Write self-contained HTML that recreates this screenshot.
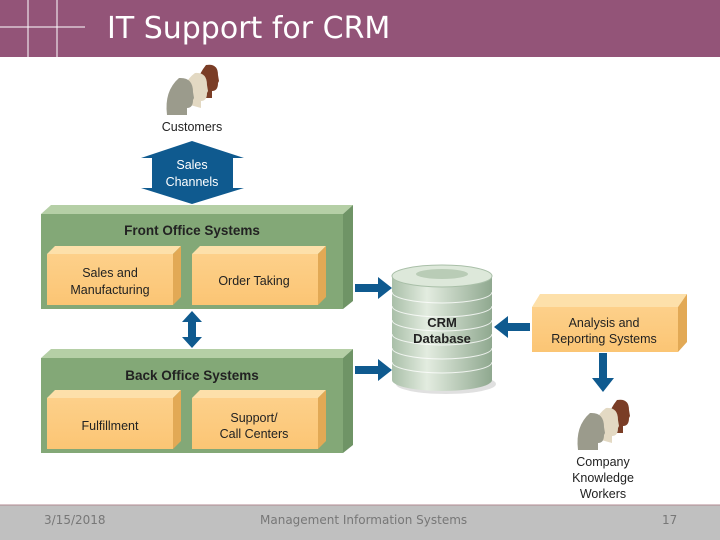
<!DOCTYPE html>
<html><head><meta charset="utf-8"><style>
html,body{margin:0;padding:0;background:#fff;}
svg{display:block;font-family:"Liberation Sans",sans-serif;}
</style></head><body>
<svg width="720" height="540" viewBox="0 0 720 540" xmlns="http://www.w3.org/2000/svg">
<defs>
<linearGradient id="cyl" x1="0" x2="1" y1="0" y2="0">
<stop offset="0" stop-color="#a9bfa8"/><stop offset="0.35" stop-color="#e3ece0"/><stop offset="1" stop-color="#8fa88f"/>
</linearGradient>
<linearGradient id="org" x1="0" x2="0" y1="0" y2="1">
<stop offset="0" stop-color="#fdd08a"/><stop offset="1" stop-color="#fbc574"/>
</linearGradient>
</defs>
<!-- header -->
<rect x="0" y="0" width="720" height="57" fill="#935478"/>
<line x1="0" y1="27" x2="85" y2="27" stroke="#fff" stroke-width="1"/>
<line x1="28" y1="0" x2="28" y2="58" stroke="#fff" stroke-width="1"/>
<line x1="57" y1="0" x2="57" y2="58" stroke="#fff" stroke-width="1"/>
<text x="107" y="38" font-size="30" fill="#fff" font-family="DejaVu Sans, sans-serif">IT Support for CRM</text>

<!-- customers -->
<g>
<path d="M196 98 q-2-18 10-33 q12-2 12 10 l1 6 l-1 2 q0 8-6 8 l0 7z" fill="#7a3d26"/>
<path d="M183 103 q-2-20 12-30 q12-1 12 12 l1 6-1 2 q0 8-6 8 l0 7z" fill="#e3d9c3"/>
<path d="M167 115 q-3-24 12-37 q14-1 14 14 l1 6-1 2 q0 8-6 8 l0 7z" fill="#9b9b8c"/>
</g>
<text x="192" y="131" font-size="12.5" text-anchor="middle" fill="#222">Customers</text>

<!-- sales channels -->
<path d="M192 141 L244 158 L233 158 L233 188 L244 188 L192 204 L141 188 L152 188 L152 158 L141 158 Z" fill="#0f5a8f"/>
<text x="192" y="169" font-size="12.5" text-anchor="middle" fill="#fff">Sales</text>
<text x="192" y="186" font-size="12.5" text-anchor="middle" fill="#fff">Channels</text>

<!-- front office -->
<polygon points="41,214 51,205 353,205 343,214" fill="#b5cfa6"/>
<polygon points="343,214 353,205 353,301 343,309" fill="#6f9466"/>
<rect x="41" y="214" width="302" height="95" fill="#83a877"/>
<text x="192" y="235" font-size="13.5" font-weight="bold" text-anchor="middle" fill="#222">Front Office Systems</text>
<polygon points="47,254 55,246 181,246 173,254" fill="#fde0aa"/>
<polygon points="173,254 181,246 181,297 173,305" fill="#e2a955"/>
<rect x="47" y="254" width="126" height="51" fill="url(#org)"/>
<text x="110" y="277" font-size="12.5" text-anchor="middle" fill="#222">Sales and</text>
<text x="110" y="294" font-size="12.5" text-anchor="middle" fill="#222">Manufacturing</text>
<polygon points="192,254 200,246 326,246 318,254" fill="#fde0aa"/>
<polygon points="318,254 326,246 326,297 318,305" fill="#e2a955"/>
<rect x="192" y="254" width="126" height="51" fill="url(#org)"/>
<text x="254" y="285" font-size="12.5" text-anchor="middle" fill="#222">Order Taking</text>

<!-- double arrow -->
<path d="M192 311 L202 322 L196 322 L196 337 L202 337 L192 348 L182 337 L188 337 L188 322 L182 322 Z" fill="#0f5a8f"/>

<!-- back office -->
<polygon points="41,358 51,349 353,349 343,358" fill="#b5cfa6"/>
<polygon points="343,358 353,349 353,445 343,453" fill="#6f9466"/>
<rect x="41" y="358" width="302" height="95" fill="#83a877"/>
<text x="192" y="380" font-size="13.5" font-weight="bold" text-anchor="middle" fill="#222">Back Office Systems</text>
<polygon points="47,398 55,390 181,390 173,398" fill="#fde0aa"/>
<polygon points="173,398 181,390 181,441 173,449" fill="#e2a955"/>
<rect x="47" y="398" width="126" height="51" fill="url(#org)"/>
<text x="110" y="430" font-size="12.5" text-anchor="middle" fill="#222">Fulfillment</text>
<polygon points="192,398 200,390 326,390 318,398" fill="#fde0aa"/>
<polygon points="318,398 326,390 326,441 318,449" fill="#e2a955"/>
<rect x="192" y="398" width="126" height="51" fill="url(#org)"/>
<text x="254" y="422" font-size="12.5" text-anchor="middle" fill="#222">Support/</text>
<text x="254" y="438" font-size="12.5" text-anchor="middle" fill="#222">Call Centers</text>

<!-- arrows to db -->
<path d="M355 284 L378 284 L378 277 L392 288 L378 299 L378 292 L355 292 Z" fill="#0f5a8f"/>
<path d="M355 366 L378 366 L378 359 L392 370 L378 381 L378 374 L355 374 Z" fill="#0f5a8f"/>

<!-- cylinder -->
<ellipse cx="446" cy="384" rx="50" ry="10" fill="#ccc" opacity="0.6"/>
<path d="M392 276 L392 380 A50 11 0 0 0 492 380 L492 276 Z" fill="url(#cyl)"/>
<g stroke="#fff" stroke-width="1" fill="none" opacity="0.8">
<path d="M392 292 A50 11 0 0 0 492 292"/><path d="M392 306 A50 11 0 0 0 492 306"/>
<path d="M392 320 A50 11 0 0 0 492 320"/><path d="M392 334 A50 11 0 0 0 492 334"/>
<path d="M392 348 A50 11 0 0 0 492 348"/><path d="M392 362 A50 11 0 0 0 492 362"/>
</g>
<ellipse cx="442" cy="276" rx="50" ry="11" fill="#dde8da" stroke="#a9bfa8"/>
<ellipse cx="442" cy="274" rx="26" ry="5" fill="#b9ccb6"/>
<text x="442" y="327" font-size="13" font-weight="bold" text-anchor="middle" fill="#222">CRM</text>
<text x="442" y="343" font-size="13" font-weight="bold" text-anchor="middle" fill="#222">Database</text>

<!-- left arrow -->
<path d="M530 323 L508 323 L508 316 L494 327 L508 338 L508 331 L530 331 Z" fill="#0f5a8f"/>

<!-- analysis -->
<polygon points="532,307 540,294 687,294 678,307" fill="#fde0aa"/>
<polygon points="678,307 687,294 687,342 678,352" fill="#e2a955"/>
<rect x="532" y="307" width="146" height="45" fill="url(#org)"/>
<text x="604" y="327" font-size="12.5" text-anchor="middle" fill="#222">Analysis and</text>
<text x="604" y="343" font-size="12.5" text-anchor="middle" fill="#222">Reporting Systems</text>

<!-- down arrow -->
<path d="M599 353 L607 353 L607 378 L614 378 L603 392 L592 378 L599 378 Z" fill="#0f5a8f"/>

<!-- workers -->
<g>
<path d="M607 433 q-2-18 10-33 q12-2 12 10 l1 6-1 2 q0 8-6 8 l0 7z" fill="#7a3d26"/>
<path d="M594 438 q-2-20 12-30 q12-1 12 12 l1 6-1 2 q0 8-6 8 l0 7z" fill="#e3d9c3"/>
<path d="M578 450 q-3-24 12-37 q14-1 14 14 l1 6-1 2 q0 8-6 8 l0 7z" fill="#9b9b8c"/>
</g>
<text x="603" y="466" font-size="12.5" text-anchor="middle" fill="#222">Company</text>
<text x="603" y="482" font-size="12.5" text-anchor="middle" fill="#222">Knowledge</text>
<text x="603" y="498" font-size="12.5" text-anchor="middle" fill="#222">Workers</text>

<!-- footer -->
<rect x="0" y="505" width="720" height="35" fill="#c0c0c0"/>
<line x1="0" y1="505" x2="720" y2="505" stroke="#b08a90" stroke-width="1"/>
<text x="44" y="524" font-size="12" fill="#777" font-family="DejaVu Sans, sans-serif">3/15/2018</text>
<text x="260" y="524" font-size="12" fill="#777" font-family="DejaVu Sans, sans-serif">Management Information Systems</text>
<text x="662" y="524" font-size="12" fill="#777" font-family="DejaVu Sans, sans-serif">17</text>
</svg>
</body></html>
